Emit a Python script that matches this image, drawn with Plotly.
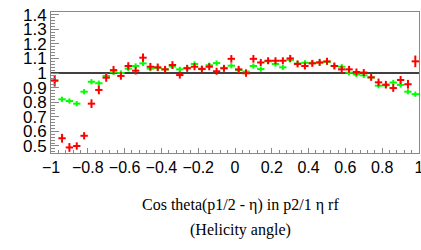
import plotly.graph_objects as go

# bin centres: 50 bins from -1 to 1
x_centers = [-0.98 + 0.04 * i for i in range(50)]
bin_half = [0.02] * 50

red_vals = [0.947, 0.553, 0.490, 0.500, 0.570, 0.790, 0.884, 0.968, 1.020, 0.980,
            1.048, 1.016, 1.105, 1.043, 1.039, 1.025, 1.055, 0.986, 1.032, 1.043,
            1.027, 1.043, 1.012, 1.032, 1.097, 1.025, 0.998, 1.097, 1.072, 1.084,
            1.084, 1.084, 1.100, 1.062, 1.048, 1.066, 1.073, 1.080, 1.048, 1.025,
            1.025, 1.007, 1.003, 0.970, 0.936, 0.920, 0.897, 0.952, 0.923, 1.080]
red_err = [0.040, 0.030, 0.030, 0.025, 0.025, 0.030, 0.030, 0.028, 0.028, 0.026,
           0.026, 0.026, 0.028, 0.026, 0.026, 0.024, 0.026, 0.024, 0.024, 0.024,
           0.024, 0.024, 0.024, 0.024, 0.026, 0.024, 0.024, 0.026, 0.024, 0.024,
           0.024, 0.024, 0.024, 0.024, 0.024, 0.024, 0.024, 0.024, 0.024, 0.024,
           0.024, 0.024, 0.024, 0.024, 0.026, 0.026, 0.026, 0.028, 0.030, 0.040]

green_vals = [0.950, 0.820, 0.808, 0.790, 0.872, 0.940, 0.930, 0.980, 1.005, 1.000,
              1.030, 1.048, 1.066, 1.030, 1.035, 1.025, 1.045, 1.025, 1.035, 1.062,
              1.030, 1.053, 1.068, 1.035, 1.050, 1.020, 1.010, 1.048, 1.027, 1.080,
              1.062, 1.039, 1.090, 1.065, 1.070, 1.070, 1.070, 1.075, 1.048, 1.043,
              1.002, 0.990, 0.984, 0.970, 0.913, 0.915, 0.935, 0.918, 0.872, 0.855]
green_err = [0.018] * 50

x_tickvals = [-1, -0.8, -0.6, -0.4, -0.2, 0, 0.2, 0.4, 0.6, 0.8, 1]
x_ticktext = ["\u22121", "\u22120.8", "\u22120.6", "\u22120.4", "\u22120.2", "0",
              "0.2", "0.4", "0.6", "0.8", "1"]
y_tickvals = [0.5, 0.6, 0.7, 0.8, 0.9, 1.0, 1.1, 1.2, 1.3, 1.4]
y_ticktext = ["0.5", "0.6", "0.7", "0.8", "0.9", "1", "1.1", "1.2", "1.3", "1.4"]

title_line1 = "Cos theta(p1/2 - \u03b7) in p2/1 \u03b7 rf"
title_line2 = "(Helicity angle)"

fig = go.Figure()

fig.add_trace(go.Scatter(
    x=[-1, 1], y=[1, 1], mode="lines",
    line=dict(color="black", width=1.3), hoverinfo="skip", showlegend=False))

fig.add_trace(go.Scatter(
    x=x_centers, y=green_vals, mode="markers",
    marker=dict(size=1, color="#00ff00"),
    error_x=dict(type="data", array=bin_half, visible=True, width=0, thickness=2, color="#00ff00"),
    error_y=dict(type="data", array=green_err, visible=True, width=0, thickness=2, color="#00ff00"),
    showlegend=False))

fig.add_trace(go.Scatter(
    x=x_centers, y=red_vals, mode="markers",
    marker=dict(size=1, color="#ff0000"),
    error_x=dict(type="data", array=bin_half, visible=True, width=0, thickness=2, color="#ff0000"),
    error_y=dict(type="data", array=red_err, visible=True, width=0, thickness=2, color="#ff0000"),
    showlegend=False))

axis_font = dict(family="Liberation Sans, Arial, sans-serif", size=16, color="black")

L, R, T, B = 51, 2, 12, 97
fig.update_layout(
    width=421, height=250,
    margin=dict(l=L, r=R, t=T, b=B, autoexpand=False),
    paper_bgcolor="white", plot_bgcolor="white",
    xaxis=dict(range=[-1, 1], tickvals=x_tickvals, ticktext=x_ticktext,
               ticks="inside", ticklen=5, tickwidth=1, tickcolor="#888888",
               minor=dict(ticks="inside", ticklen=3, dtick=0.04, tick0=-1, tickcolor="#888888"),
               showline=True, linecolor="#888888", linewidth=1, mirror=True,
               showgrid=False, zeroline=False, tickfont=axis_font,
               automargin=False, ticklabeloverflow="allow"),
    yaxis=dict(range=[0.452, 1.418], tickvals=y_tickvals, ticktext=y_ticktext,
               ticks="inside", ticklen=8, tickwidth=1, tickcolor="#888888",
               minor=dict(ticks="inside", ticklen=4, dtick=0.02, tick0=0.5, tickcolor="#888888"),
               showline=True, linecolor="#888888", linewidth=1, mirror=True,
               showgrid=False, zeroline=False, tickfont=dict(axis_font, size=17),
               automargin=False, ticklabeloverflow="allow"),
)

plot_w = 421 - L - R
plot_h = 250 - T - B
def px_to_paper(px, py):
    return (px - L) / plot_w, (250 - B - py) / plot_h

for txt, (pxx, pyy) in [(title_line1, px_to_paper(240, 205)),
                        (title_line2, px_to_paper(240, 230))]:
    fig.add_annotation(text=txt, x=pxx, y=pyy, xref="paper", yref="paper",
                       showarrow=False, xanchor="center", yanchor="middle",
                       font=dict(family="Liberation Serif, Times New Roman, serif",
                                 size=16, color="black"))

fig.write_html("out.html",
               config={"displayModeBar": False},
               post_script="document.body.style.margin='0';document.body.style.overflow='hidden';")
